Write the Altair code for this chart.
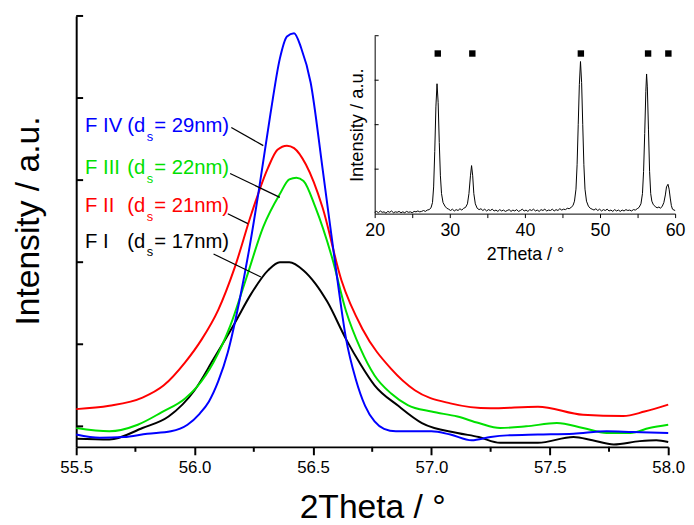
import altair as alt
import pandas as pd

FONT = "Liberation Sans, Arial, sans-serif"

# ---------------- main pattern (55.5 - 58.0 deg) ----------------
fI_x = [55.50, 55.64, 55.78, 55.89, 56.00, 56.08, 56.17, 56.24, 56.31, 56.36, 56.40, 56.46, 56.51,
        56.56, 56.64, 56.70, 56.76, 56.86, 56.96, 57.11, 57.20, 57.29, 57.45, 57.60, 57.68, 57.77,
        57.88, 57.95, 58.00]
fI_y = [-0.15, -0.16, -0.02, 0.12, 0.44, 0.82, 1.26, 1.62, 1.90, 2.00, 2.00, 1.90, 1.74,
        1.52, 1.06, 0.76, 0.50, 0.25, 0.04, -0.08, -0.13, -0.20, -0.20, -0.13, -0.17, -0.22,
        -0.18, -0.17, -0.19]

fII_x = [55.50, 55.64, 55.78, 55.87, 55.96, 56.03, 56.10, 56.17, 56.24, 56.31, 56.35, 56.39, 56.42,
         56.47, 56.54, 56.62, 56.71, 56.83, 56.93, 57.08, 57.25, 57.45, 57.64, 57.81, 57.90, 58.00]
fII_y = [0.21, 0.25, 0.35, 0.50, 0.78, 1.06, 1.42, 1.94, 2.59, 3.15, 3.37, 3.42, 3.39,
         3.19, 2.67, 1.78, 1.18, 0.70, 0.44, 0.28, 0.22, 0.24, 0.14, 0.125, 0.18, 0.265]

fIII_x = [55.50, 55.64, 55.76, 55.86, 55.96, 56.01, 56.08, 56.15, 56.22, 56.29, 56.36, 56.40, 56.43,
          56.46, 56.51, 56.58, 56.64, 56.70, 56.76, 56.83, 56.90, 57.00, 57.11, 57.20, 57.29, 57.40,
          57.53, 57.64, 57.74, 57.84, 57.92, 58.00]
fIII_y = [-0.02, -0.06, 0.02, 0.17, 0.34, 0.48, 0.78, 1.22, 1.82, 2.43, 2.83, 3.01, 3.03,
          2.99, 2.67, 2.06, 1.40, 0.95, 0.62, 0.40, 0.26, 0.18, 0.12, 0.04, -0.02, 0.00,
          0.04, -0.02, -0.08, -0.08, -0.02, 0.02]

fIV_x = [55.50, 55.60, 55.70, 55.80, 55.90, 55.97, 56.02, 56.06, 56.10, 56.14, 56.19, 56.23, 56.27,
         56.32, 56.36, 56.39, 56.42, 56.45, 56.49, 56.54, 56.60, 56.64, 56.68, 56.72, 56.76, 56.80,
         56.85, 56.92, 57.00, 57.08, 57.17, 57.25, 57.32, 57.45, 57.60, 57.74, 57.85, 58.00]
fIV_y = [-0.10, -0.14, -0.13, -0.09, -0.06, 0.02, 0.15, 0.30, 0.55, 0.90, 1.54, 2.15, 2.85,
         3.80, 4.48, 4.75, 4.79, 4.61, 4.19, 3.15, 1.85, 1.06, 0.58, 0.25, 0.06, -0.03,
         -0.06, -0.06, -0.06, -0.10, -0.17, -0.13, -0.11, -0.10, -0.09, -0.06, -0.07, -0.08]

series_names = ["F I", "F II", "F III", "F IV"]
series_colors = ["#000000", "#ff0000", "#00e000", "#0000ff"]
series_x = [fI_x, fII_x, fIII_x, fIV_x]
series_y = [fI_y, fII_y, fIII_y, fIV_y]

# labels
label_names = ["F IV", "F III", "F II", "F I"]
label_sizes = ["= 29nm)", "= 22nm)", "= 21nm)", "= 17nm)"]
label_colors = ["#0000ff", "#00e000", "#ff0000", "#000000"]
label_x = [55.792, 55.792, 55.792, 55.792]
label_y = [3.66, 3.145, 2.68, 2.25]
# leader lines (from label to curve)
lead_x1 = [56.155, 56.15, 56.14, 56.08]
lead_y1 = [3.64, 3.08, 2.59, 2.10]
lead_x2 = [56.29, 56.36, 56.225, 56.28]
lead_y2 = [3.42, 2.79, 2.47, 1.82]

main_major = [55.5, 56.0, 56.5, 57.0, 57.5, 58.0]
main_minor = [55.75, 56.25, 56.75, 57.25, 57.75]
main_yticks = [0, 1, 2, 3, 4, 5]

# ---------------- inset: full pattern 20 - 60 deg ----------------
inset_x = [20.0, 20.25, 20.5, 20.75, 21.0, 21.25, 21.5, 21.75, 22.0, 22.25, 22.5, 22.75, 23.0, 23.25,
           23.5, 23.75, 24.0, 24.25, 24.5, 24.75, 25.0, 25.25, 25.5, 25.75, 26.0, 26.25, 26.5, 26.75,
           27.0, 27.25, 27.5, 27.7, 27.85, 28.0, 28.15, 28.3, 28.45, 28.6, 28.75, 28.9, 29.1, 29.35,
           29.6, 29.85, 30.1, 30.35, 30.6, 30.85, 31.1, 31.35, 31.6, 31.85, 32.1, 32.35, 32.55, 32.75,
           32.9, 33.05, 33.2, 33.4, 33.65, 33.9, 34.15, 34.4, 34.65, 34.9, 35.15, 35.4, 35.65, 35.9,
           36.15, 36.4, 36.65, 36.9, 37.15, 37.4, 37.65, 37.9, 38.15, 38.4, 38.65, 38.9, 39.15, 39.4,
           39.65, 39.9, 40.15, 40.4, 40.65, 40.9, 41.15, 41.4, 41.65, 41.9, 42.15, 42.4, 42.65, 42.9,
           43.15, 43.4, 43.65, 43.9, 44.15, 44.4, 44.65, 44.9, 45.15, 45.4, 45.65, 45.9, 46.15, 46.4,
           46.6, 46.8, 46.95, 47.1, 47.25, 47.4, 47.55, 47.7, 47.85, 48.0, 48.2, 48.45, 48.7, 48.95,
           49.2, 49.45, 49.7, 49.95, 50.2, 50.45, 50.7, 50.95, 51.2, 51.45, 51.7, 51.95, 52.2, 52.45,
           52.7, 52.95, 53.2, 53.45, 53.7, 53.95, 54.2, 54.45, 54.7, 54.95, 55.2, 55.45, 55.65, 55.8,
           55.95, 56.1, 56.2, 56.3, 56.45, 56.6, 56.75, 56.9, 57.1, 57.35, 57.6, 57.85, 58.05, 58.3,
           58.5, 58.7, 58.85, 59.05, 59.2, 59.35, 59.5, 59.65, 59.85, 60.0]
inset_y = [0.03, 0.05, 0.02, 0.06, 0.03, 0.04, 0.01, 0.05, 0.03, 0.06, 0.02, 0.04, 0.03, 0.05,
           0.02, 0.04, 0.02, 0.05, 0.03, 0.04, 0.02, 0.05, 0.04, 0.06, 0.04, 0.05, 0.07, 0.05,
           0.08, 0.09, 0.13, 0.25, 0.60, 1.40, 2.40, 2.92, 2.50, 1.60, 0.85, 0.45, 0.25, 0.17,
           0.12, 0.10, 0.07, 0.10, 0.06, 0.09, 0.07, 0.11, 0.08, 0.12, 0.14, 0.22, 0.45, 0.85,
           1.08, 0.85, 0.45, 0.22, 0.12, 0.09, 0.11, 0.07, 0.10, 0.06, 0.09, 0.07, 0.10, 0.06,
           0.08, 0.05, 0.09, 0.06, 0.08, 0.05, 0.07, 0.09, 0.05, 0.08, 0.06, 0.09, 0.05, 0.07,
           0.10, 0.06, 0.08, 0.05, 0.09, 0.07, 0.10, 0.06, 0.08, 0.05, 0.09, 0.07, 0.10, 0.06,
           0.08, 0.07, 0.10, 0.06, 0.09, 0.07, 0.11, 0.08, 0.10, 0.09, 0.12, 0.11, 0.14, 0.18,
           0.28, 0.55, 1.10, 2.00, 2.90, 3.42, 2.95, 2.00, 1.10, 0.55, 0.28, 0.17, 0.12, 0.10,
           0.08, 0.11, 0.07, 0.10, 0.06, 0.09, 0.07, 0.10, 0.06, 0.08, 0.05, 0.09, 0.06, 0.08,
           0.05, 0.08, 0.06, 0.09, 0.07, 0.08, 0.06, 0.09, 0.08, 0.11, 0.14, 0.22, 0.45, 0.95,
           1.80, 2.75, 3.14, 2.85, 1.90, 0.95, 0.45, 0.28, 0.20, 0.16, 0.13, 0.15, 0.12, 0.17,
           0.25, 0.42, 0.60, 0.66, 0.55, 0.35, 0.18, 0.10, 0.08, 0.07]
marker_x = [28.4, 33.0, 47.45, 56.4, 59.1]
marker_y = [3.6, 3.6, 3.6, 3.6, 3.6]
inset_xticks = [20, 25, 30, 35, 40, 45, 50, 55, 60]
inset_yticks = [1, 2, 3, 4]

# ---------------- tables ----------------
rows = []
for i, (n, xs, ys) in enumerate(zip(series_names, series_x, series_y)):
    for j, (a, b) in enumerate(zip(xs, ys)):
        rows.append({"series": n, "order": i, "idx": j, "x": a, "y": b})
main_df = pd.DataFrame(rows)

ann_df = pd.DataFrame({"name": label_names, "size": label_sizes, "col": label_colors,
                       "x": label_x, "y": label_y})
lead_df = pd.DataFrame({"x": lead_x1, "y": lead_y1, "x2": lead_x2, "y2": lead_y2})
minor_df = pd.DataFrame({"x": main_minor})
ytick_df = pd.DataFrame({"y": main_yticks})
inset_df = pd.DataFrame({"x": inset_x, "y": inset_y})
marker_df = pd.DataFrame({"x": marker_x, "y": marker_y})
inset_ytick_df = pd.DataFrame({"y": inset_yticks})

W, H = 599, 436

main_xscale = alt.Scale(domain=[55.5, 58.0], nice=False, zero=False)
main_yscale = alt.Scale(domain=[-0.25, 5.0], nice=False, zero=False)
main_xaxis = alt.Axis(values=main_major, format=".1f", tickSize=8, tickWidth=2, tickColor="black",
                      domainWidth=2, domainColor="black", grid=False, labelFlush=False,
                      labelFont=FONT, labelFontSize=17, labelColor="black", labelPadding=5,
                      title="2Theta / °", titleFont=FONT, titleFontSize=34, titleFontWeight="normal",
                      titleColor="black", titlePadding=15)
main_yaxis = alt.Axis(labels=False, ticks=False, domainWidth=2, domainColor="black", grid=False,
                      title="Intensity / a.u.", titleFont=FONT, titleFontSize=34,
                      titleFontWeight="normal", titleColor="black", titlePadding=31, titleY=207)


def mx(f="x"):
    return alt.X(f"{f}:Q", scale=main_xscale, axis=main_xaxis)


def my(f="y"):
    return alt.Y(f"{f}:Q", scale=main_yscale, axis=main_yaxis)


lines = alt.Chart(main_df).mark_line(strokeWidth=2, interpolate="monotone").encode(
    x=mx(), y=my(),
    color=alt.Color("series:N", scale=alt.Scale(domain=series_names, range=series_colors), legend=None),
    detail="series:N",
    order="idx:Q",
)

leads = alt.Chart(lead_df).mark_rule(color="black", strokeWidth=1.2).encode(
    x=mx(), y=my(), x2="x2:Q", y2="y2:Q")

t_name = alt.Chart(ann_df).mark_text(align="left", baseline="middle", font=FONT, fontSize=20.5, dx=-61).encode(
    x=mx(), y=my(), text="name:N", color=alt.Color("col:N", scale=None))
t_d = alt.Chart(ann_df).mark_text(align="right", baseline="middle", font=FONT, fontSize=20.5).encode(
    x=mx(), y=my(), text=alt.value("(d"), color=alt.Color("col:N", scale=None))
t_s = alt.Chart(ann_df).mark_text(align="left", baseline="middle", font=FONT, fontSize=13, dx=1.5, dy=11).encode(
    x=mx(), y=my(), text=alt.value("s"), color=alt.Color("col:N", scale=None))
t_rest = alt.Chart(ann_df).mark_text(align="left", baseline="middle", font=FONT, fontSize=20.5, dx=9).encode(
    x=mx(), y=my(), text="size:N", color=alt.Color("col:N", scale=None))

minor_ticks = alt.Chart(minor_df).mark_rule(color="black", strokeWidth=2).encode(
    x=mx(), y=alt.value(H), y2=alt.value(H + 5))
y_ticks = alt.Chart(ytick_df).mark_rule(color="black", strokeWidth=2).encode(
    y=my(), x=alt.value(0), x2=alt.value(7))

main = alt.layer(lines, leads, t_name, t_d, t_s, t_rest, minor_ticks, y_ticks)

# inset
ix0, ix1 = 302, 606
iy0, iy1 = 200, 20
inset_xscale = alt.Scale(domain=[20, 60], range=[ix0, ix1], nice=False, zero=False)
inset_yscale = alt.Scale(domain=[0, 4], range=[iy0, iy1], nice=False, zero=False)
inset_xaxis = alt.Axis(orient="bottom", offset=-(H - iy0), values=inset_xticks,
                       labelExpr="datum.value % 10 === 0 ? datum.label : ''",
                       tickSize=4, tickColor="black", domainColor="black", domainWidth=1, grid=False,
                       labelFlush=False, labelFont=FONT, labelFontSize=18, labelColor="black",
                       labelPadding=4, title="2Theta / °", titleFont=FONT, titleFontSize=18,
                       titleFontWeight="normal", titleColor="black", titlePadding=6)
inset_yaxis = alt.Axis(orient="left", offset=-ix0, labels=False, ticks=False, domainColor="black",
                       domainWidth=1, grid=False, title="Intensity / a.u.", titleFont=FONT,
                       titleFontSize=18.5, titleFontWeight="normal", titleColor="black", titlePadding=8)


def ix(f="x"):
    return alt.X(f"{f}:Q", scale=inset_xscale, axis=inset_xaxis)


def iy(f="y"):
    return alt.Y(f"{f}:Q", scale=inset_yscale, axis=inset_yaxis)


inset_line = alt.Chart(inset_df).mark_line(color="black", strokeWidth=1).encode(x=ix(), y=iy())
inset_marks = alt.Chart(marker_df).mark_square(color="black", size=42, opacity=1).encode(x=ix(), y=iy())
inset_yt = alt.Chart(inset_ytick_df).mark_rule(color="black", strokeWidth=1).encode(
    y=iy(), x=alt.value(ix0), x2=alt.value(ix0 + 4))

inset = alt.layer(inset_line, inset_marks, inset_yt)

chart = alt.layer(main, inset).resolve_scale(x="independent", y="independent").properties(
    width=W, height=H,
    padding={"left": 69, "top": 5, "right": 18, "bottom": 76},
    autosize=alt.AutoSizeParams(type="none"),
    background="white",
).configure_view(strokeWidth=0)

chart.save("out.html", embed_options={"renderer": "svg", "actions": False})
